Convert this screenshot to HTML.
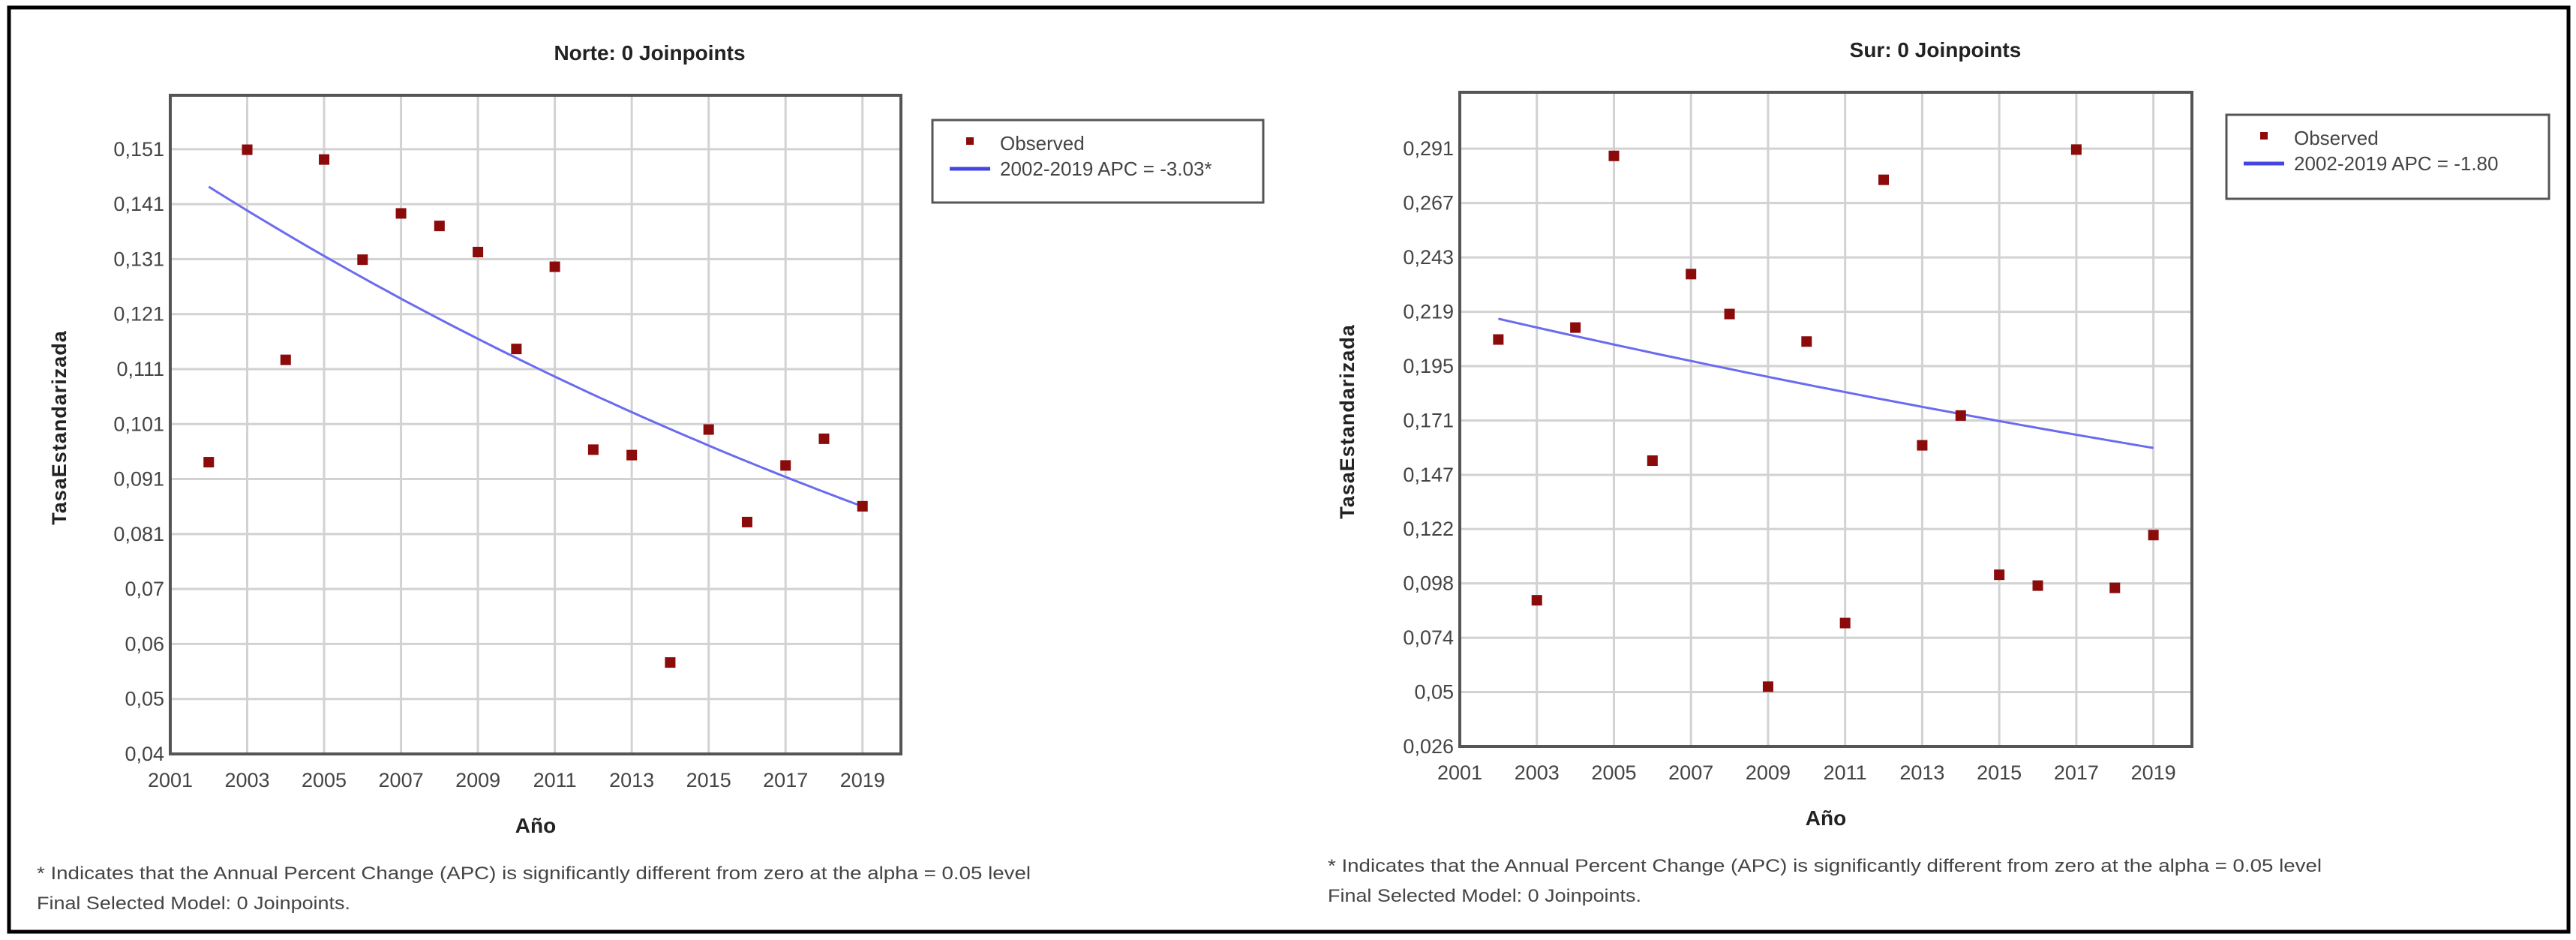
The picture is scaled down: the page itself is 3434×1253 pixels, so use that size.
<!DOCTYPE html>
<html><head><meta charset="utf-8"><style>
html,body{margin:0;padding:0;background:#fff;}
svg{display:block;font-family:"Liberation Sans",sans-serif;}
</style></head><body>
<svg id="root" width="3434" height="1253" viewBox="0 0 3434 1253" xmlns="http://www.w3.org/2000/svg">
<rect x="12" y="10" width="3412" height="1232" fill="#fff" stroke="#000" stroke-width="5"/>
<g id="g1"></g><g id="g2"></g>
</svg>
<script>
const years = [2002,2003,2004,2005,2006,2007,2008,2009,2010,2011,2012,2013,2014,2015,2016,2017,2018,2019];
const norteValues = [0.0936,0.151,0.1124,0.1492,0.1308,0.1393,0.137,0.1322,0.1144,0.1295,0.0959,0.0949,0.0568,0.0996,0.0826,0.093,0.0979,0.0855];
const surValues = [0.2064,0.0908,0.2117,0.2878,0.1527,0.2354,0.2177,0.0525,0.2055,0.0807,0.2772,0.1595,0.1727,0.1021,0.0973,0.2906,0.0963,0.1197];
const norteFitStart = 0.1442;
const norteApc = -3.03;
const surFitStart = 0.2156;
const surApc = -1.80;
const xTicks = [2001,2003,2005,2007,2009,2011,2013,2015,2017,2019];
const norteYTicks = ["0,04","0,05","0,06","0,07","0,081","0,091","0,101","0,111","0,121","0,131","0,141","0,151"];
const surYTicks = ["0,026","0,05","0,074","0,098","0,122","0,147","0,171","0,195","0,219","0,243","0,267","0,291"];
const norteTickVals = [0.04,0.0501,0.0602,0.0703,0.0804,0.0905,0.1006,0.1107,0.1208,0.1309,0.141,0.1511];
const surTickVals = [0.026,0.0501,0.0742,0.0983,0.1224,0.1464,0.1705,0.1946,0.2187,0.2428,0.2669,0.291];

const NS="http://www.w3.org/2000/svg";
function mk(parent,tag,attrs,text){const e=document.createElementNS(NS,tag);for(const k in attrs)e.setAttribute(k,attrs[k]);if(text!==undefined)e.textContent=text;parent.appendChild(e);return e;}

function chart(g,cfg){
  const L=cfg.L,R=cfg.R,T=cfg.T,B=cfg.B;
  const xs=v=>L+(v-2001)/(2020-2001)*(R-L);
  const ys=v=>B-(v-cfg.ymin)/(cfg.ymax-cfg.ymin)*(B-T);
  let t=mk(g,'text',{x:cfg.titleX,y:cfg.titleY,'font-size':28,'font-weight':'bold','text-anchor':'middle',fill:'#222'},cfg.title);
  
  
  // grid
  cfg.tickVals.forEach((v,i)=>{
    const y=ys(v);
    const ln=mk(g,'line',{x1:L,x2:R,y1:y,y2:y,stroke:'#d2d2d2','stroke-width':3});
    
    
    const lb=mk(g,'text',{x:L-8,y:y+9,'font-size':27,'text-anchor':'end',fill:'#444'},cfg.yLabels[i]);
    
    
  });
  xTicks.forEach(v=>{
    const x=xs(v);
    const ln=mk(g,'line',{x1:x,x2:x,y1:T,y2:B,stroke:'#d2d2d2','stroke-width':3});
    
    
    const lb=mk(g,'text',{x:x,y:B+44,'font-size':27,'text-anchor':'middle',fill:'#444'},String(v));
    
    
  });
  const fr=mk(g,'rect',{x:L,y:T,width:R-L,height:B-T,fill:'none',stroke:'#555','stroke-width':4});
  
  
  // fit line
  let d='';
  for(let k=0;k<=60;k++){const yr=2002+17*k/60;const v=cfg.fitStart*Math.pow(1+cfg.apc/100,yr-2002);d+=(k?'L':'M')+xs(yr).toFixed(1)+' '+ys(v).toFixed(1);}
  const p=mk(g,'path',{d:d,fill:'none',stroke:'#6b6bf0','stroke-width':3});
  
  
  cfg.values.forEach((v,i)=>{
    const r=mk(g,'rect',{x:xs(years[i])-7,y:ys(v)-7,width:14,height:14,fill:'#8b0a0a'});
    
    
  });
  // axis titles
  const ax=mk(g,'text',{x:(L+R)/2,y:cfg.xTitleY,'font-size':28,'font-weight':'bold','text-anchor':'middle',fill:'#222'},'Año');
  
  
  const ay=mk(g,'text',{x:0,y:0,'font-size':27,'font-weight':'bold','text-anchor':'middle',fill:'#222',transform:`translate(${cfg.yTitleX},${cfg.yTitleY}) rotate(-90)`,'letter-spacing':1},'TasaEstandarizada');
  
  
  // legend
  const lg=mk(g,'g',{});
  
  
  mk(lg,'rect',{x:cfg.lgX,y:cfg.lgY,width:cfg.lgW,height:cfg.lgH,fill:'#fff',stroke:'#555','stroke-width':3});
  const m=mk(lg,'rect',{x:cfg.lgX+45,y:cfg.lgY+23,width:10,height:10,fill:'#8b0a0a'});
  
  
  const t1=mk(lg,'text',{x:cfg.lgX+90,y:cfg.lgY+40,'font-size':26,fill:'#444'},'Observed');
  
  
  const l2=mk(lg,'line',{x1:cfg.lgX+23,x2:cfg.lgX+77,y1:cfg.lgY+65,y2:cfg.lgY+65,stroke:'#4545e0','stroke-width':5});
  
  
  const t2=mk(lg,'text',{x:cfg.lgX+90,y:cfg.lgY+74,'font-size':26,fill:'#444'},cfg.lgText);
  
  
  // footnotes
  const f1=mk(g,'text',{x:cfg.fnX,y:cfg.fnY,'font-size':24,fill:'#444',textLength:1325,lengthAdjust:'spacingAndGlyphs'},'* Indicates that the Annual Percent Change (APC) is significantly different from zero at the alpha = 0.05 level');
  
  
  const f2=mk(g,'text',{x:cfg.fnX,y:cfg.fnY+40,'font-size':24,fill:'#444',textLength:418,lengthAdjust:'spacingAndGlyphs'},'Final Selected Model: 0 Joinpoints.');
  
  
}
const g1=document.getElementById('g1');


const g2=document.getElementById('g2');


chart(g1,{L:227,R:1201,T:127,B:1005,ymin:0.04,ymax:0.161,title:'Norte: 0 Joinpoints',titleX:866,titleY:80,
  values:norteValues,fitStart:norteFitStart,apc:norteApc,yLabels:norteYTicks,tickVals:norteTickVals,
  xTitleY:1110,yTitleX:88,yTitleY:570,lgX:1243,lgY:160,lgW:441,lgH:110,lgText:'2002-2019 APC  = -3.03*',fnX:49,fnY:1172});
chart(g2,{L:1946,R:2922,T:123,B:995,ymin:0.026,ymax:0.316,title:'Sur: 0 Joinpoints',titleX:2580,titleY:76,
  values:surValues,fitStart:surFitStart,apc:surApc,yLabels:surYTicks,tickVals:surTickVals,
  xTitleY:1100,yTitleX:1805,yTitleY:562,lgX:2968,lgY:153,lgW:430,lgH:112,lgText:'2002-2019 APC  = -1.80',fnX:1770,fnY:1162});
</script>
</body></html>
